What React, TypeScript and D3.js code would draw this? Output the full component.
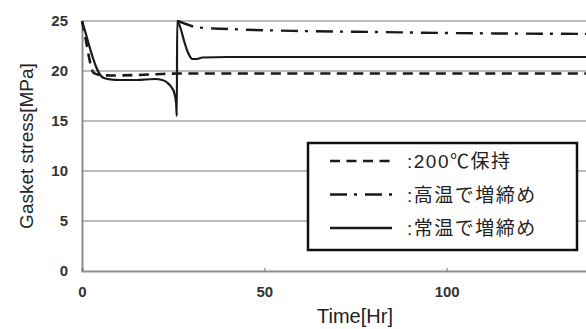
import { useEffect, useRef } from "react";
import * as d3 from "d3";

// time [Hr] / stress [MPa]
const holdTime = [0, 0.8, 1.6, 2.4, 3.2, 5, 8, 15, 22, 26, 30, 40, 150];
const holdStress = [25, 23.6, 22.0, 20.6, 19.8, 19.6, 19.55, 19.6, 19.7, 19.75, 19.75, 19.75, 19.75];

const hotTime = [26.05, 27, 28.5, 30, 32, 40, 60, 80, 100, 150];
const hotStress = [25, 24.9, 24.7, 24.5, 24.35, 24.2, 24.0, 23.9, 23.8, 23.7];

const roomTime = [0, 1, 2, 3, 4, 5, 6, 8, 10, 15, 20, 22, 23.5, 24.5, 25.3, 25.8, 26, 26.1, 27, 28, 29, 30.3, 31.5, 33, 40, 150];
const roomStress = [25, 23.8, 22.5, 21.3, 20.3, 19.6, 19.3, 19.15, 19.1, 19.1, 19.2, 19.1, 18.8, 18.4, 17.8, 16.8, 15.5, 25, 24.3, 23.0, 21.9, 21.2, 21.2, 21.35, 21.4, 21.4];

const yTicks = [0, 5, 10, 15, 20, 25];
const xTicks = [0, 50, 100];

const legendLabels = [":200℃保持", ":高温で増締め", ":常温で増締め"];
const dashes = ["10 6.5", "17 7 3 8", null];

function App() {
  const ref = useRef<SVGSVGElement | null>(null);

  useEffect(() => {
    document.body.style.margin = "0";
    const svg = d3.select(ref.current);
    svg.selectAll("*").remove();

    // the plot runs on past the right edge (to 150 h), as in the source image
    const left = 82, top = 21, bottom = 271, right = 629;
    const x = d3.scaleLinear().domain([0, 150]).range([left, right]);
    const y = d3.scaleLinear().domain([0, 25]).range([bottom, top]);
    const font = "'Liberation Sans', Arial, 'Noto Sans CJK JP', sans-serif";

    // grid
    svg.append("g")
      .selectAll("line")
      .data(yTicks.filter(d => d > 0))
      .enter()
      .append("line")
      .attr("x1", left)
      .attr("x2", right)
      .attr("y1", d => y(d))
      .attr("y2", d => y(d))
      .attr("stroke", "#a8a6a4")
      .attr("stroke-width", 1.5);

    // axes
    const yAxis = svg.append("g")
      .attr("transform", `translate(${left},0)`)
      .call(d3.axisLeft(y).tickValues(yTicks).tickSize(0).tickPadding(14));
    yAxis.select(".domain").attr("stroke", "#8f8c8a").attr("stroke-width", 2);
    yAxis.selectAll("text")
      .attr("font-family", font)
      .attr("font-size", 15)
      .attr("font-weight", "bold")
      .attr("fill", "#333");

    const xAxis = svg.append("g")
      .attr("transform", `translate(0,${bottom})`)
      .call(d3.axisBottom(x).tickValues(xTicks).tickSize(-3).tickPadding(15));
    xAxis.select(".domain").attr("stroke", "#8f8c8a").attr("stroke-width", 2);
    xAxis.selectAll(".tick line").attr("stroke", "#777");
    xAxis.selectAll("text")
      .attr("font-family", font)
      .attr("font-size", 15)
      .attr("font-weight", "bold")
      .attr("fill", "#333");

    // series
    const line = d3.line<[number, number]>()
      .x(d => x(d[0]))
      .y(d => y(d[1]))
      .curve(d3.curveMonotoneX);

    const series: [number[], number[], string | null, number][] = [
      [holdTime, holdStress, dashes[0], 2.6],
      [hotTime, hotStress, dashes[1], 2.4],
      [roomTime, roomStress, dashes[2], 2.2],
    ];
    series.forEach(([ts, vs, dash, w]) => {
      svg.append("path")
        .datum(ts.map((t, i) => [t, vs[i]] as [number, number]))
        .attr("d", line)
        .attr("fill", "none")
        .attr("stroke", "#1a1a1a")
        .attr("stroke-width", w)
        .attr("stroke-dasharray", dash);
    });

    // axis titles
    svg.append("text")
      .attr("x", 355)
      .attr("y", 323)
      .attr("text-anchor", "middle")
      .attr("font-family", font)
      .attr("font-size", 20)
      .attr("fill", "#222")
      .text("Time[Hr]");

    svg.append("text")
      .attr("transform", `translate(33,${(top + bottom) / 2}) rotate(-90)`)
      .attr("text-anchor", "middle")
      .attr("font-family", font)
      .attr("font-size", 19)
      .attr("fill", "#222")
      .text("Gasket stress[MPa]");

    // legend
    const lg = svg.append("g");
    lg.append("rect")
      .attr("x", 308)
      .attr("y", 143)
      .attr("width", 269)
      .attr("height", 107)
      .attr("fill", "#fff")
      .attr("stroke", "#111")
      .attr("stroke-width", 2.5);
    legendLabels.forEach((label, i) => {
      const ly = 161 + i * 33.5;
      lg.append("line")
        .attr("x1", 330)
        .attr("x2", 392)
        .attr("y1", ly)
        .attr("y2", ly)
        .attr("stroke", "#1a1a1a")
        .attr("stroke-width", 2.5)
        .attr("stroke-dasharray", dashes[i]);
      lg.append("text")
        .attr("x", 407)
        .attr("y", ly + 7)
        .attr("font-family", font)
        .attr("font-size", 19)
        .attr("letter-spacing", 1.5)
        .attr("fill", "#222")
        .text(label);
    });
  }, []);

  return <svg ref={ref} width={586} height={329} style={{ display: "block" }} />;
}

export default App;
